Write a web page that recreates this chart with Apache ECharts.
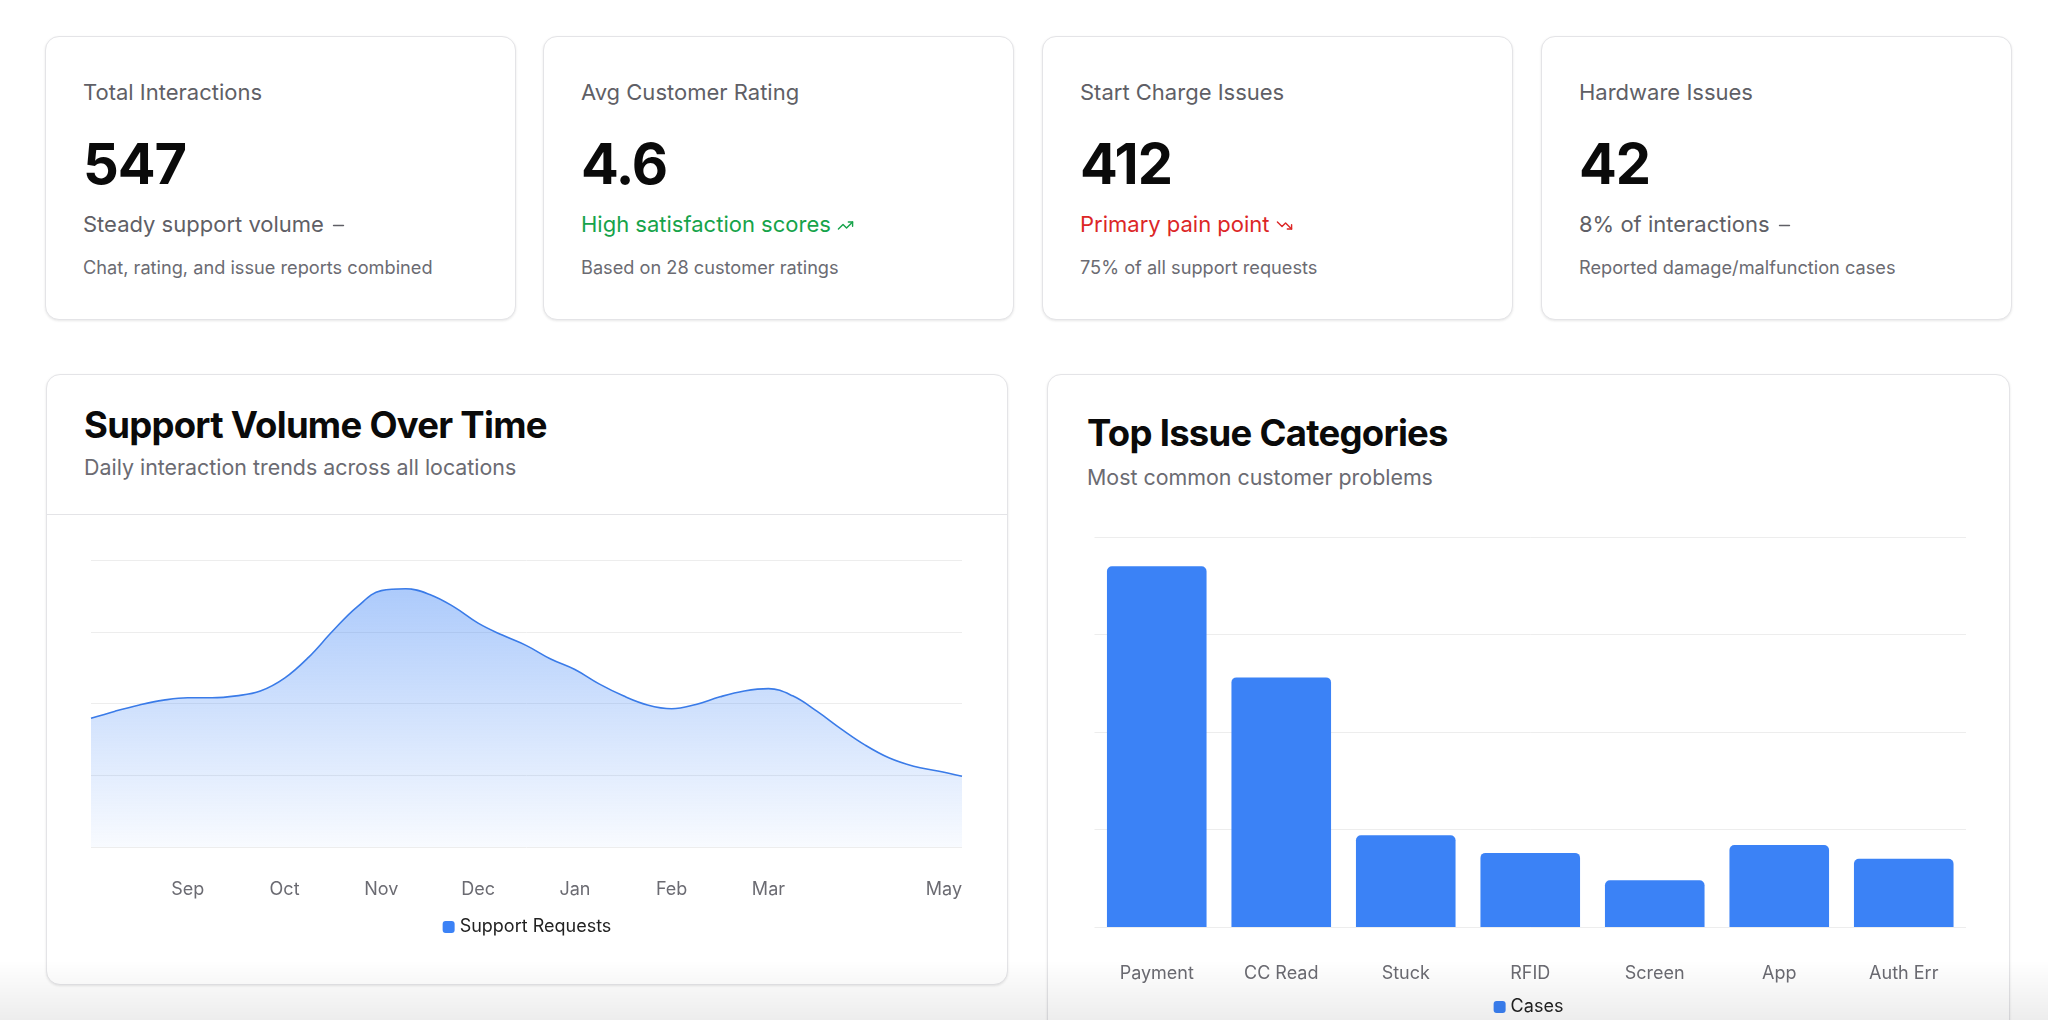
<!DOCTYPE html>
<html>
<head>
<meta charset="utf-8">
<title>Support Dashboard</title>
<script src="https://cdn.jsdelivr.net/npm/echarts@6/dist/echarts.min.js"></script>
<style>
	body {
		margin: 0;
		width: 2048px;
		height: 1020px;
		overflow: hidden;
		background: #fff;
		position: relative;
		font-family: Inter, "Noto Sans", sans-serif;
		color: #0a0a0a;
	}
	.card {
		position: absolute;
		box-sizing: border-box;
		background: #fff;
		border: 1px solid #e4e4e7;
		border-radius: 14px;
		box-shadow: 0 1px 3px rgba(0, 0, 0, 0.07), 0 1px 2px rgba(0, 0, 0, 0.03);
	}
	.stat { top: 36px; width: 471px; height: 284px; }
	.stat div { position: absolute; left: 37px; white-space: nowrap; }
	.stat .label { top: 40px; line-height: 30px; font-size: 22px; color: #5f5f66; }
	.stat .value { top: 97px; line-height: 60px; font-size: 56px; font-weight: 700; letter-spacing: -0.02em; }
	.stat .trend { top: 172px; line-height: 30px; font-size: 22px; color: #5f5f66; }
	.stat .note { top: 218px; line-height: 24px; font-size: 18.2px; color: #6b6b72; }
	.trend svg { width: 17px; height: 17px; vertical-align: -2px; margin-left: 6px; }
	.up { color: #16a34a !important; }
	.down { color: #dc2626 !important; }
	.panel { top: 374px; }
	.panel .title { position: absolute; line-height: 44px; font-size: 36.5px; font-weight: 700; letter-spacing: -0.02em; white-space: nowrap; }
	.panel .sub { position: absolute; line-height: 28px; font-size: 21.4px; color: #6b6b72; white-space: nowrap; }
	.panel .rule { position: absolute; left: 0; right: 0; top: 139px; border-top: 1.5px solid #e4e4e7; }
	.chart { position: absolute; }
	#fade {
		position: absolute; left: 0; right: 0; bottom: 0; height: 60px;
		background: linear-gradient(to bottom, rgba(0,0,0,0), rgba(0,0,0,0.07));
		pointer-events: none;
	}
</style>
</head>
<body>

<div class="card stat" style="left:45px">
	<div class="label">Total Interactions</div>
	<div class="value">547</div>
	<div class="trend">Steady support volume<svg viewBox="0 0 24 24" fill="none" stroke="currentColor" stroke-width="2" stroke-linecap="round"><line x1="5" y1="12" x2="19" y2="12"/></svg></div>
	<div class="note">Chat, rating, and issue reports combined</div>
</div>
<div class="card stat" style="left:543px">
	<div class="label">Avg Customer Rating</div>
	<div class="value">4.6</div>
	<div class="trend up">High satisfaction scores<svg viewBox="0 0 24 24" fill="none" stroke="currentColor" stroke-width="2" stroke-linecap="round" stroke-linejoin="round"><polyline points="22 7 13.5 15.5 8.5 10.5 2 17"/><polyline points="16 7 22 7 22 13"/></svg></div>
	<div class="note">Based on 28 customer ratings</div>
</div>
<div class="card stat" style="left:1042px">
	<div class="label">Start Charge Issues</div>
	<div class="value">412</div>
	<div class="trend down">Primary pain point<svg viewBox="0 0 24 24" fill="none" stroke="currentColor" stroke-width="2" stroke-linecap="round" stroke-linejoin="round"><polyline points="22 17 13.5 8.5 8.5 13.5 2 7"/><polyline points="16 17 22 17 22 11"/></svg></div>
	<div class="note">75% of all support requests</div>
</div>
<div class="card stat" style="left:1541px">
	<div class="label">Hardware Issues</div>
	<div class="value">42</div>
	<div class="trend">8% of interactions<svg viewBox="0 0 24 24" fill="none" stroke="currentColor" stroke-width="2" stroke-linecap="round"><line x1="5" y1="12" x2="19" y2="12"/></svg></div>
	<div class="note">Reported damage/malfunction cases</div>
</div>

<div class="card panel" style="left:46px; width:962px; height:611px">
	<div class="title" style="left:37px; top:28px">Support Volume Over Time</div>
	<div class="sub" style="left:37px; top:78px">Daily interaction trends across all locations</div>
	<div class="rule"></div>
</div>
<div class="card panel" style="left:1047px; width:963px; height:720px">
	<div class="title" style="left:39px; top:36px">Top Issue Categories</div>
	<div class="sub" style="left:39px; top:88px">Most common customer problems</div>
</div>

<div id="volume" class="chart" style="left:47px; top:515px; width:960px; height:468px"></div>
<div id="issues" class="chart" style="left:1048px; top:515px; width:961px; height:505px"></div>
<div id="fade"></div>

<script>
// support volume, weekly points
var weekLabels = [
	'Aug 1', 'Aug 8', 'Aug 16', 'Aug 24', 'Sep 1', 'Sep 8', 'Sep 16', 'Sep 23',
	'Oct 1', 'Oct 8', 'Oct 16', 'Oct 24', 'Nov 1', 'Nov 8', 'Nov 16', 'Nov 23',
	'Dec 1', 'Dec 8', 'Dec 16', 'Dec 24', 'Jan 1', 'Jan 8', 'Jan 16', 'Jan 24',
	'Feb 1', 'Feb 8', 'Feb 15', 'Feb 22', 'Mar 1', 'Mar 8', 'Mar 16', 'Mar 24',
	'Apr 1', 'Apr 8', 'Apr 16', 'Apr 23', 'May 1'
];
var supportRequests = [
	26.9, 28.4, 29.7, 30.7, 31.2, 31.2, 31.6, 32.6,
	35.3, 39.7, 45.2, 50.2, 53.6, 54.0, 52.8, 50.2,
	46.8, 44.3, 42.1, 39.3, 37.1, 34.1, 31.6, 29.7,
	28.9, 29.8, 31.4, 32.6, 33.1, 31.6, 28.4, 24.7,
	21.3, 18.6, 16.9, 15.9, 14.8
];
var monthTicks = ['Sep', 'Oct', 'Nov', 'Dec', 'Jan', 'Feb', 'Mar', 'May'];

// issue categories
var issueCategories = ['Payment', 'CC Read', 'Stuck', 'RFID', 'Screen', 'App', 'Auth Err'];
var issueCases = [185, 128, 47, 38, 24, 42, 35];

var blue = '#3b82f6';
var gridLine = { lineStyle: { color: '#ededed', width: 1 } };
var labelFont = { fontFamily: 'Inter', fontSize: 18, color: '#6b6b72' };

window.onload = () => {

	var volChart = echarts.init(document.getElementById('volume'));
	volChart.setOption({
		animation: false,
		grid: { left: 44, right: 45, top: 45, height: 287 },
		legend: {
			data: ['Support Requests'],
			top: 398,
			icon: 'roundRect',
			itemWidth: 12,
			itemHeight: 12,
			itemGap: 10,
			textStyle: { fontFamily: 'Inter', fontSize: 18, color: '#222' }
		},
		xAxis: {
			type: 'category',
			data: weekLabels,
			boundaryGap: false,
			axisLine: { show: false },
			axisTick: { show: false },
			axisLabel: Object.assign({
				margin: 34,
				alignMaxLabel: 'right',
				hideOverlap: false,
				interval: (idx, val) => {
					var p = val.split(' ');
					return p[1] === '1' && monthTicks.indexOf(p[0]) >= 0;
				},
				formatter: (val) => val.split(' ')[0]
			}, labelFont)
		},
		yAxis: {
			type: 'value',
			min: 0,
			max: 60,
			interval: 15,
			axisLabel: { show: false },
			axisLine: { show: false },
			axisTick: { show: false },
			splitLine: gridLine
		},
		series: [{
			name: 'Support Requests',
			type: 'line',
			data: supportRequests,
			smooth: 0.4,
			showSymbol: false,
			lineStyle: { color: '#3a7be8', width: 1.6 },
			itemStyle: { color: blue },
			areaStyle: {
				color: new echarts.graphic.LinearGradient(0, 0, 0, 1, [
					{ offset: 0, color: 'rgba(59,130,246,0.6)' },
					{ offset: 1, color: 'rgba(59,130,246,0.05)' }
				])
			}
		}]
	});

	var issueChart = echarts.init(document.getElementById('issues'));
	issueChart.setOption({
		animation: false,
		grid: { left: 46.5, width: 871.5, top: 22, height: 390 },
		legend: {
			data: ['Cases'],
			top: 478,
			icon: 'roundRect',
			itemWidth: 12,
			itemHeight: 12,
			itemGap: 10,
			textStyle: { fontFamily: 'Inter', fontSize: 18, color: '#222' }
		},
		xAxis: {
			type: 'category',
			data: issueCategories,
			axisLine: { show: false },
			axisTick: { show: false },
			axisLabel: Object.assign({ margin: 38, interval: 0 }, labelFont)
		},
		yAxis: {
			type: 'value',
			min: 0,
			max: 200,
			interval: 50,
			axisLabel: { show: false },
			axisLine: { show: false },
			axisTick: { show: false },
			splitLine: gridLine
		},
		series: [{
			name: 'Cases',
			type: 'bar',
			data: issueCases,
			barCategoryGap: '20%',
			itemStyle: { color: blue, borderRadius: [5, 5, 0, 0] }
		}]
	});
};
</script>
</body>
</html>
